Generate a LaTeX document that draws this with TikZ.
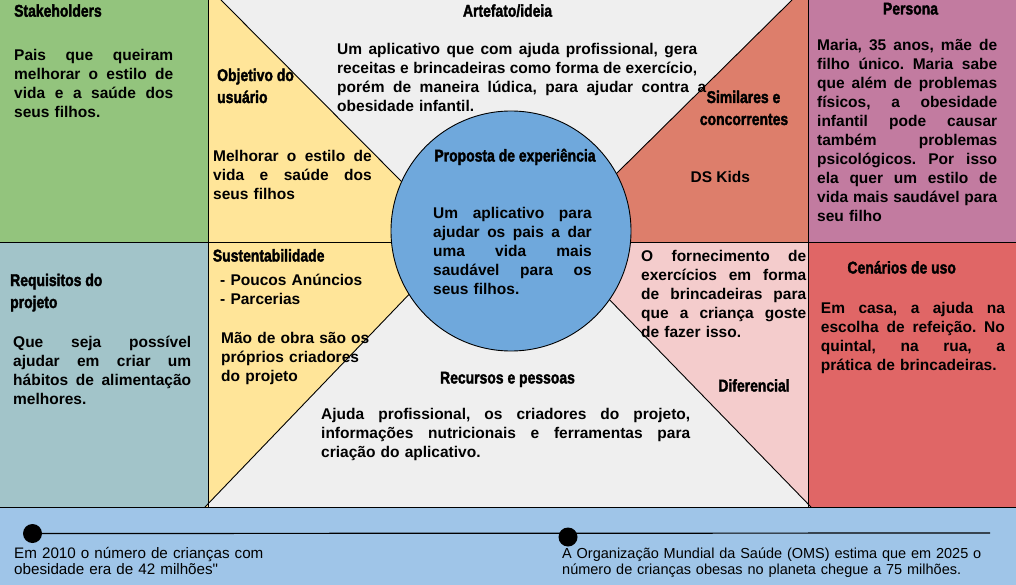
\documentclass[tikz,border=0pt]{standalone}
\usepackage{graphicx}
\usepackage{fontspec}
\setmainfont{Liberation Sans}
\newfontfamily\notefont[Ligatures=TeXOff]{Liberation Sans}
\newfontfamily\hfont[FakeBold=2.2]{Liberation Sans Bold}
\definecolor{cgreen}{HTML}{93C47D}
\definecolor{cteal}{HTML}{A2C4C9}
\definecolor{cyellow}{HTML}{FFE599}
\definecolor{cgray}{HTML}{EFEFEF}
\definecolor{cblue}{HTML}{6FA8DC}
\definecolor{csalmon}{HTML}{DD7E6B}
\definecolor{cpink}{HTML}{F4CCCC}
\definecolor{cpurple}{HTML}{C27BA0}
\definecolor{cred}{HTML}{E06666}
\definecolor{cbot}{HTML}{9FC5E8}
\newcommand\J[2]{\leavevmode{\spaceskip=0.278em plus 1fil\relax\hbox to #1{#2}}\\}
\newcommand\HT[1]{\scalebox{0.82}[1]{#1}}
\tikzset{
  hd/.style={font=\hfont\fontsize{17}{21}\selectfont, inner sep=0pt, anchor=base},
  hdl/.style={hd, anchor=base west},
  bd/.style={font=\frenchspacing\bfseries\fontsize{15.5}{19}\selectfont, inner sep=0pt, anchor=base west, align=left},
  note/.style={inner sep=0pt, anchor=base west, align=left, text width=440pt},
  edge/.style={draw=black, line width=0.9pt},
  dot/.style={circle, fill=black, inner sep=0pt, minimum size=19pt}
}
\begin{document}
\frenchspacing
\begin{tikzpicture}[x=1pt,y=-1pt]
\useasboundingbox (0,0) rectangle (1016,585);
% backgrounds
\fill[cbot] (0,507) rectangle (1016,585);
\fill[cgray] (208,0) rectangle (808,507);
\fill[cgreen] (0,0) rectangle (208,242);
\fill[cteal] (0,242) rectangle (208,507);
\fill[cpurple] (808,0) rectangle (1016,242);
\fill[cred] (808,242) rectangle (1016,507);
\fill[cyellow] (208,0) -- (221,0) -- (456.3,236.6) -- (456.3,242) -- (208,242) -- cycle;
\fill[cyellow] (208,242) -- (451.4,242) -- (451.4,250.2) -- (205,507) -- (208,507) -- cycle;
\fill[csalmon] (792,0) -- (808,0) -- (808,242) -- (564.5,242) -- (564.5,224.9) -- cycle;
\fill[cpink] (808,242) -- (559.5,242) -- (559.5,248.25) -- (811,507) -- (808,507) -- cycle;
% separating lines
\draw[edge] (221,0) -- (456.3,236.6);
\draw[edge] (208,242) -- (451.4,242);
\draw[edge] (205,507) -- (451.4,250.2);
\draw[edge] (792,0) -- (564.5,224.9);
\draw[edge] (559.5,242) -- (808,242);
\draw[edge] (811,507) -- (559.5,248.25);
\draw[edge] (208,0) -- (208,507);
\draw[edge] (808,0) -- (808,507);
\draw[edge] (0,242) -- (208,242);
\draw[edge] (808,242) -- (1016,242);
\draw[edge] (1016,0) -- (1016,507);
\draw[edge] (0,507) -- (1016,507);
% central circle
\node[circle, fill=cblue, draw=black, line width=0.9pt, minimum size=240pt, inner sep=0pt] (circ) at (511,231) {};
% headings
\node[hdl] (hstk) at (14,16.7) {\HT{Stakeholders}};
\node[hd] (hart) at (507.5,16.7) {\HT{Artefato/ideia}};
\node[hdl] (hobj1) at (217,81) {\HT{Objetivo do}};
\node[hdl] (hobj2) at (217,103) {\HT{usuário}};
\node[hd] (hprop) at (515,161.5) {\HT{Proposta de experiência}};
\node[hd] (hsim1) at (743.5,103) {\HT{Similares e}};
\node[hd] (hsim2) at (744,125) {\HT{concorrentes}};
\node[hd] (hper) at (910.5,14.5) {\HT{Persona}};
\node[hdl] (hreq1) at (10,286) {\HT{Requisitos do}};
\node[hdl] (hreq2) at (10,308) {\HT{projeto}};
\node[hdl] (hsus) at (212.7,261.5) {\HT{Sustentabilidade}};
\node[hd] (hcen) at (901.7,273.5) {\HT{Cenários de uso}};
\node[hd] (hrec) at (507.5,383.5) {\HT{Recursos e pessoas}};
\node[hd] (hdif) at (754,391.5) {\HT{Diferencial}};
% bodies
\node[bd, text width=170pt] (bstk) at (14,60.5) {\J{159pt}{Pais que queiram}\J{159pt}{melhorar o estilo de}\J{159pt}{vida e a saúde dos}seus filhos.};
\node[bd, text width=380pt] (bart) at (337,54.5) {\J{360pt}{Um aplicativo que com ajuda profissional, gera}\J{360pt}{receitas e brincadeiras como forma de exercício,}\J{369pt}{porém de maneira lúdica, para ajudar contra a}obesidade infantil.};
\node[bd, text width=170pt] (bobj) at (213,161.5) {\J{158.5pt}{Melhorar o estilo de}\J{158.5pt}{vida e saúde dos}seus filhos};
\node[bd, text width=170pt] (bprop) at (433,218.5) {\J{158.5pt}{Um aplicativo para}\J{158.5pt}{ajudar os pais a dar}\J{158.5pt}{uma vida mais}\J{158.5pt}{saudável para os}seus filhos.};
\node[bd, anchor=base] (dsk) at (720.3,182.7) {DS Kids};
\node[bd, text width=190pt] (bper) at (817,51) {\J{180pt}{Maria, 35 anos, mãe de}\J{180pt}{filho único. Maria sabe}\J{180pt}{que além de problemas}\J{180pt}{físicos, a obesidade}\J{180pt}{infantil pode causar}\J{180pt}{também problemas}\J{180pt}{psicológicos. Por isso}\J{180pt}{ela quer um estilo de}\J{180pt}{vida mais saudável para}seu filho};
\node[bd, text width=190pt] (breq) at (13,347.5) {\J{178pt}{Que seja possível}\J{178pt}{ajudar em criar um}\J{178pt}{hábitos de alimentação}melhores.};
\node[bd, text width=180pt] (bsus1) at (220,285.5) {- Poucos Anúncios\\- Parcerias};
\node[bd, text width=180pt] (bsus2) at (221,343.5) {Mão de obra são os\\próprios criadores\\do projeto};
\node[bd, text width=180pt] (bfor) at (641,261.5) {\J{165pt}{O fornecimento de}\J{165pt}{exercícios em forma}\J{165pt}{de brincadeiras para}\J{165pt}{que a criança goste}de fazer isso.};
\node[bd, text width=195pt] (bcen) at (820.7,313.5) {\J{184pt}{Em casa, a ajuda na}\J{184pt}{escolha de refeição. No}\J{184pt}{quintal, na rua, a}prática de brincadeiras.};
\node[bd, text width=380pt] (brec) at (321,419.5) {\J{369pt}{Ajuda profissional, os criadores do projeto,}\J{369pt}{informações nutricionais e ferramentas para}criação do aplicativo.};
% timeline
\coordinate (tlend) at (990,533);
\node[dot] (d1) at (32.5,533.5) {};
\draw[line width=1.2pt] (d1.center) -- (tlend);
\node[dot] (d2) at (568,537) {};
\node[note, font=\notefont\fontsize{15.2}{16.3}\selectfont] (t1) at (14,558.3) {Em 2010 o número de crianças com\\obesidade era de 42 milhões"};
\node[note, font=\notefont\fontsize{14.5}{16.3}\selectfont] (t2) at (562,558.3) {A Organização Mundial da Saúde (OMS) estima que em 2025 o\\número de crianças obesas no planeta chegue a 75 milhões.};
\end{tikzpicture}
\end{document}
